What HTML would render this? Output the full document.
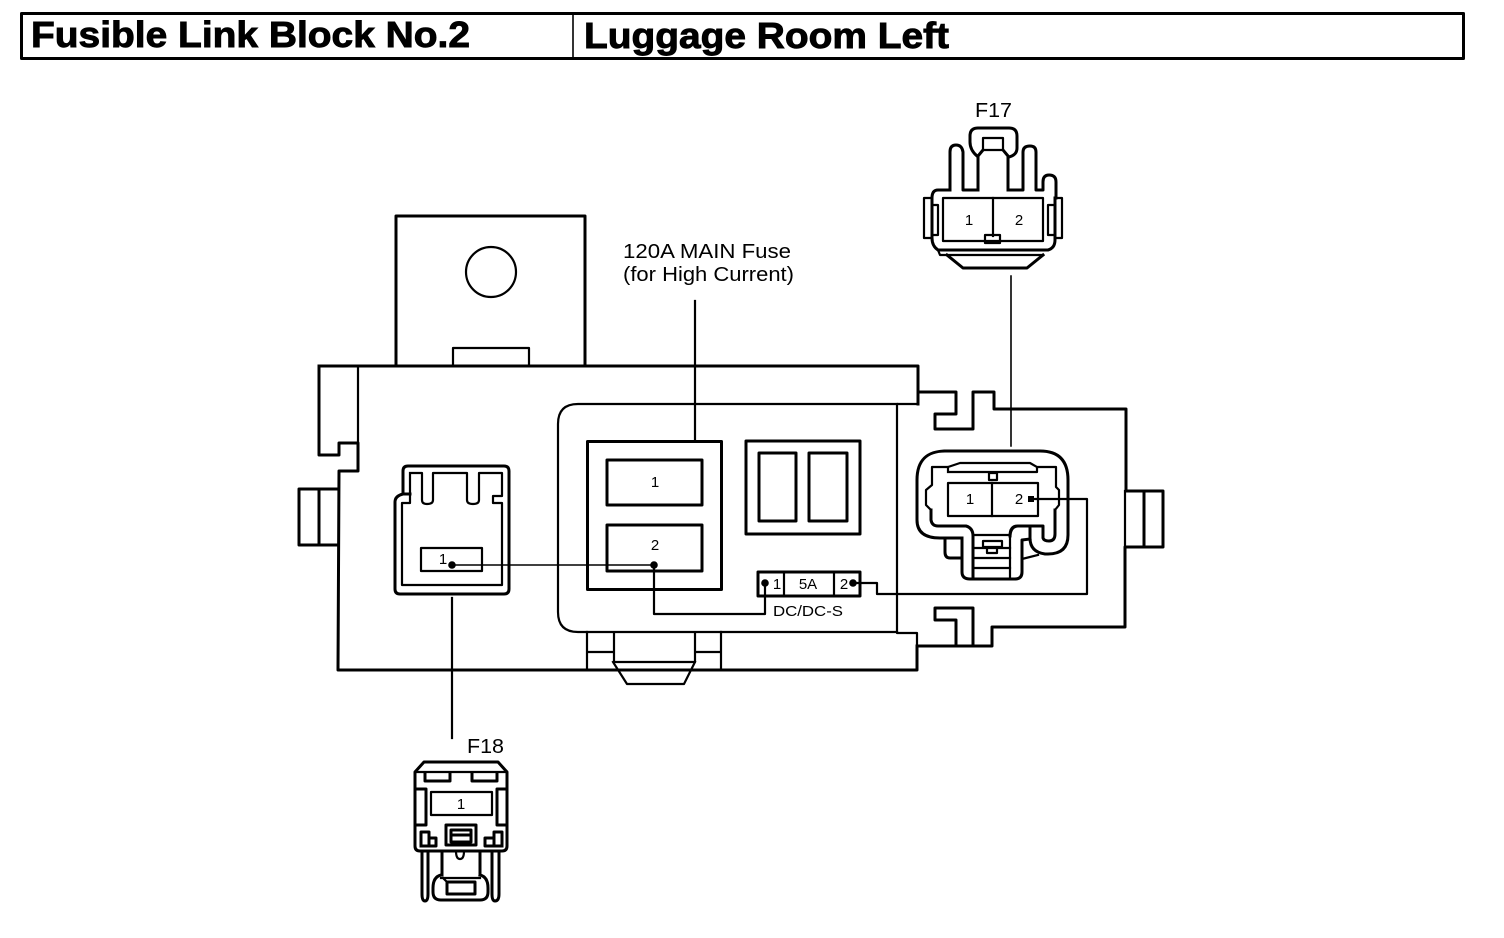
<!DOCTYPE html>
<html><head><meta charset="utf-8"><style>
html,body{margin:0;padding:0;background:#fff}
svg{display:block}
text{font-family:"Liberation Sans",sans-serif;fill:#000}
.k{fill:none;stroke:#000;stroke-width:3;stroke-linejoin:round;stroke-linecap:square}
.m{fill:none;stroke:#000;stroke-width:2.2;stroke-linejoin:round;stroke-linecap:square}
.t{fill:none;stroke:#000;stroke-width:1.6;stroke-linejoin:round;stroke-linecap:square}
.n{font-size:15px;text-anchor:middle}
.h{font-size:36px;font-weight:bold;stroke:#000;stroke-width:.9}
</style></head><body>
<svg width="1504" height="938" viewBox="0 0 1504 938" xmlns="http://www.w3.org/2000/svg">
<!-- header -->
<rect class="k" x="21.5" y="13.5" width="1442" height="45"/>
<path class="t" d="M573 14V58"/>
<text class="h" x="31" y="47" textLength="439" lengthAdjust="spacingAndGlyphs">Fusible Link Block No.2</text>
<text class="h" x="584" y="48" textLength="365" lengthAdjust="spacingAndGlyphs">Luggage Room Left</text>

<!-- labels -->
<text x="623" y="258" font-size="20" textLength="168" lengthAdjust="spacingAndGlyphs">120A MAIN Fuse</text>
<text x="623" y="281" font-size="20" textLength="171" lengthAdjust="spacingAndGlyphs">(for High Current)</text>
<text x="975" y="117" font-size="20" textLength="37" lengthAdjust="spacingAndGlyphs">F17</text>
<text x="467" y="753" font-size="20" textLength="37" lengthAdjust="spacingAndGlyphs">F18</text>

<!-- top bracket -->
<path class="k" d="M396 365V216H585V365"/>
<circle class="m" cx="491" cy="272" r="25"/>
<path class="m" d="M453 365V348H529V365"/>

<!-- main body outline -->
<path class="k" d="M319 366V455H339V443H358V471H339L338 670H917V646"/>
<path class="k" d="M319 366H918V404"/>
<path class="m" d="M358 367V443"/>
<path class="k" d="M338 489H299V545H338M319 489V545"/>
<path class="m" d="M918 404H897V633H917V646"/>
<!-- right side -->
<path class="k" d="M918 392H956V414H935V429H973V392H994V409H1126V491M1126 491H1163V547H1125V627H992V646H973V608H935V620H956V646M917 646H973"/>
<path class="k" d="M1144 491V547"/>
<path class="m" d="M1125 491V547"/>
<!-- central rounded panel -->
<path class="m" d="M897 404H578Q558 404 558 424V612Q558 632 578 632H897"/>
<!-- bottom tab -->
<path class="m" d="M587 632V670M721 632V670M587 652H613M696 652H721M614 633V662H695V633"/>
<path class="m" d="M613 662L627 684H684L695 662"/>

<!-- 120A fuse -->
<rect class="k" x="587.5" y="441.5" width="134" height="148"/>
<rect class="k" x="607" y="460" width="95" height="45"/>
<rect class="k" x="607" y="525" width="95" height="46"/>
<text class="n" x="655" y="487">1</text>
<text class="n" x="655" y="550">2</text>
<path class="m" d="M695 301V440"/>
<!-- second box -->
<rect class="k" x="746" y="441" width="114" height="93"/>
<rect class="k" x="759" y="453" width="37" height="68"/>
<rect class="k" x="809" y="453" width="38" height="68"/>
<!-- 5A fuse -->
<rect class="k" x="758" y="572" width="102" height="24"/>
<path class="m" d="M784 572V596M834 572V596"/>
<text class="n" x="777" y="589">1</text>
<text class="n" x="808" y="589">5A</text>
<text class="n" x="844" y="589">2</text>
<text x="773" y="616" font-size="14.5" textLength="70" lengthAdjust="spacingAndGlyphs">DC/DC-S</text>
<!-- wires -->
<path class="t" d="M452 565H654"/>
<path class="m" d="M654 565V614H765V583"/>
<path class="m" d="M853 583H877V594H1087V499H1031"/>
<circle cx="452" cy="565" r="3.8"/><circle cx="654" cy="565" r="3.8"/>
<circle cx="765" cy="583" r="3.8"/><circle cx="853" cy="583" r="3.8"/>
<rect x="1028" y="496" width="6" height="6"/>

<!-- left socket -->
<path class="k" d="M403 494V471Q403 466 408 466H504Q509 466 509 471V589Q509 594 504 594H400Q395 594 395 589V502Q395 496 403 494H410"/>
<path class="m" d="M410 473V503H402V585H502V503H493V496H502V473H479V500Q479 504 473 504Q467 504 467 500V473H433V500Q433 504 427 504Q422 504 422 500V473H410"/>
<rect class="m" x="421" y="548" width="61" height="23"/>
<text class="n" x="443" y="564">1</text>
<path class="m" d="M452 598V738"/>

<!-- right socket -->
<path class="k" d="M945 451H1040Q1068 451 1068 480V535Q1068 554 1048 554H1045Q1030 552 1030 538V526"/>
<path class="k" d="M1010 536Q1010 526 1018 526H1043V538Q1044 541 1049 541Q1055 541 1055 534V510"/>
<path class="m" d="M1010 536V579"/>
<path class="k" d="M945 451Q917 451 917 480V520Q917 538 940 538H962"/>
<path class="k" d="M945 539V552Q945 558 950 558H962"/>
<path class="k" d="M962 539V572Q962 579 970 579H1015Q1022 579 1022 572V540L1030 539"/>
<path class="m" d="M1022 559L1038 555"/>
<path class="k" d="M931 510V520Q932 526 938 526H966Q973 528 973 536V579"/>
<path class="m" d="M948 472V467H932V485L926 490V505L931 510M948 472H1037V467H1056V487L1059 490V505L1055 510M948 467L960 463H1030L1037 467"/>
<path class="m" d="M975 535H1010M975 548H1010M975 558H1010M975 568H1010"/>
<path class="m" d="M983 541H1002V547H983ZM987 547H997V553H987Z"/>
<rect class="m" x="948" y="483" width="90" height="33"/>
<path class="m" d="M992 483V516"/>
<rect class="m" x="989" y="473" width="8" height="7" fill="#fff"/>
<text class="n" x="970" y="504">1</text>
<text class="n" x="1019" y="504">2</text>
<path class="t" d="M1011 276V446"/>

<!-- F17 connector -->
<path class="k" d="M977 156Q970 150 970 142V136Q970 128 978 128H1009Q1017 128 1017 136V148Q1017 155 1009 157"/>
<rect class="m" x="983" y="138" width="20" height="12"/>
<path class="k" d="M978 190V156L983 150M1008 190V156L1003 150"/>
<path class="k" d="M950 190V152Q950 145 956 145Q962 145 963 152V190H978M1008 190H1023V152Q1023 146 1030 146Q1036 146 1036 152V190H1043V182Q1043 175 1049 175Q1056 175 1056 182V198"/>
<path class="k" d="M950 190H938Q932 190 932 198V238Q932 246 938 250H1048Q1055 248 1055 240V198"/>
<path class="m" d="M932 198H924V238H932M1055 198H1062V238H1055"/>
<path class="m" d="M932 205H938V235H932M1055 205H1048V235H1055"/>
<path class="m" d="M938 250L940 255H1043"/>
<rect class="m" x="943" y="198" width="100" height="43"/>
<path class="m" d="M993 198V236"/>
<rect class="m" x="985" y="235" width="15" height="8" fill="#fff"/>
<text class="n" x="969" y="225">1</text>
<text class="n" x="1019" y="225">2</text>
<path class="k" d="M947 255L963 268H1027L1043 255"/>

<!-- F18 connector -->
<path class="k" d="M415 772L424 762H498L507 772V846Q507 851 502 851H420Q415 851 415 846Z"/>
<path class="m" d="M415 772H507"/>
<path class="k" d="M425 773V781H450V773M472 773V781H497V773"/>
<path class="k" d="M416 789H426V825H416M507 789H497V825H507"/>
<rect class="m" x="431" y="792" width="61" height="23"/>
<text class="n" x="461" y="809">1</text>
<rect class="k" x="446" y="825" width="30" height="20"/>
<path class="k" d="M451 830H471V842H451ZM451 835H471"/>
<path class="k" d="M421 846V832H429V846ZM429 838H436V846H421M502 846V832H494V846ZM494 838H485V846H502"/>
<path class="k" d="M422 851V894Q422 901 425 901Q428 901 428 894V851M492 851V894Q492 901 495 901Q499 901 499 894V851"/>
<path class="k" d="M442 851V875M480 851V875"/>
<path class="k" d="M441 875Q433 877 433 888V892Q433 900 441 900H480Q488 900 488 892V888Q488 877 480 875"/>
<rect class="k" x="447" y="882" width="28" height="12"/>
<path class="m" d="M441 878H480M443 878L447 882"/>
<path class="m" d="M456 851Q456 859 460 859Q464 859 464 851"/>
</svg>
</body></html>
